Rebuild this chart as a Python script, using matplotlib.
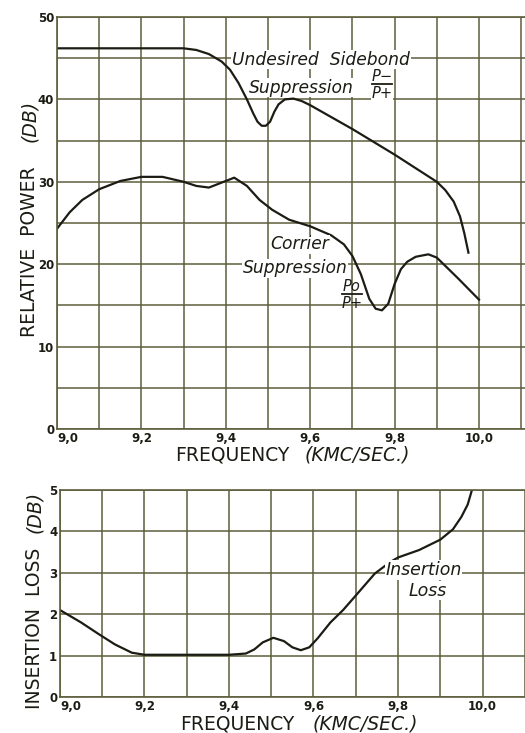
"""Relative power and insertion loss vs frequency"""
import matplotlib.pyplot as plt
from matplotlib.lines import Line2D
import numpy as np

# --- data ---
sideband_f = [9.00, 9.10, 9.20, 9.30, 9.33, 9.36, 9.39, 9.41, 9.43, 9.45, 9.465, 9.475,
              9.485, 9.495, 9.505, 9.515, 9.525, 9.54, 9.56, 9.58, 9.60, 9.70, 9.80,
              9.90, 9.92, 9.94, 9.955, 9.965, 9.975]
sideband_db = [46.2, 46.2, 46.2, 46.2, 46.0, 45.5, 44.6, 43.6, 42.0, 40.0, 38.3, 37.3,
               36.8, 36.8, 37.3, 38.5, 39.4, 40.0, 40.1, 39.8, 39.3, 36.4, 33.3,
               30.0, 29.0, 27.6, 25.8, 23.8, 21.4]

carrier_f = [9.00, 9.03, 9.06, 9.10, 9.15, 9.20, 9.25, 9.30, 9.33, 9.36, 9.39, 9.42,
             9.45, 9.48, 9.51, 9.55, 9.60, 9.65, 9.68, 9.70, 9.72, 9.74, 9.755, 9.77,
             9.785, 9.80, 9.815, 9.83, 9.85, 9.88, 9.90, 9.95, 10.00]
carrier_db = [24.3, 26.3, 27.8, 29.1, 30.1, 30.6, 30.6, 30.0, 29.5, 29.3, 29.9, 30.5,
              29.5, 27.8, 26.6, 25.4, 24.6, 23.5, 22.4, 21.0, 18.8, 15.8, 14.6, 14.4,
              15.2, 17.6, 19.4, 20.3, 20.9, 21.2, 20.8, 18.3, 15.7]

loss_f = [9.00, 9.05, 9.09, 9.13, 9.17, 9.20, 9.30, 9.40, 9.44, 9.46, 9.48, 9.505,
          9.53, 9.55, 9.57, 9.59, 9.61, 9.64, 9.67, 9.70, 9.745, 9.78, 9.80, 9.85,
          9.90, 9.93, 9.95, 9.965, 9.975]
loss_db = [2.1, 1.8, 1.53, 1.27, 1.07, 1.02, 1.02, 1.02, 1.05, 1.15, 1.32, 1.43,
           1.35, 1.2, 1.13, 1.2, 1.42, 1.8, 2.1, 2.45, 2.98, 3.25, 3.37, 3.55,
           3.8, 4.05, 4.35, 4.65, 5.0]

freq_ticks = [9.0, 9.2, 9.4, 9.6, 9.8, 10.0]
freq_labels = ['9,0', '9,2', '9,4', '9,6', '9,8', '10,0']
power_ticks = [0, 10, 20, 30, 40, 50]
loss_ticks = [0, 1, 2, 3, 4, 5]

INK = '#1c1c14'
GRID = '#5c5e3c'

W, H = 525, 733
fig = plt.figure(figsize=(W / 100, H / 100), dpi=100)
fig.patch.set_facecolor('white')


def px(x, y):
    # pixel position (from top-left) -> figure fraction
    return x / W, 1 - y / H


def style_axes(ax, ymax, ystep, yticks):
    ax.set_xlim(9.0, 10.115)
    ax.set_ylim(0, ymax)
    ax.set_xticks(np.arange(9.1, 10.15, 0.2), minor=True)
    ax.set_yticks([v for v in np.arange(0, ymax + 0.01, ystep) if v not in yticks],
                  minor=True)
    ax.set_xticks(freq_ticks)
    ax.set_xticklabels(freq_labels)
    ax.set_yticks(yticks)
    ax.set_yticklabels([str(t) for t in yticks])
    ax.grid(True, which='both', color=GRID, linewidth=1.1)
    ax.tick_params(which='both', length=0, labelsize=8.5, labelcolor=INK, pad=2)
    for lab in ax.get_xticklabels() + ax.get_yticklabels():
        lab.set_fontweight('bold')
    ax.get_xticklabels()[0].set_horizontalalignment('left')
    for s in ['top', 'left', 'bottom']:
        ax.spines[s].set_color(GRID)
        ax.spines[s].set_linewidth(1.2)
    ax.spines['right'].set_visible(False)
    ax.set_axisbelow(True)


def fraction(num, den, cx, ytop, size=10.5, bg=None):
    # hand-lettered ratio: numerator, bar, denominator (pixel coords)
    fig.text(*px(cx, ytop), num, fontsize=size, style='italic', color=INK,
             ha='center', va='top', bbox=bg)
    fig.text(*px(cx, ytop + 17.5), den, fontsize=size, style='italic', color=INK,
             ha='center', va='top', bbox=bg)
    x0, y0 = px(cx - 10, ytop + 15)
    x1, _ = px(cx + 10, ytop + 15)
    fig.add_artist(Line2D([x0, x1], [y0, y0], color=INK, linewidth=1.3,
                          transform=fig.transFigure, zorder=10))


box = dict(facecolor='white', edgecolor='none', pad=0.5)
LBL = 13.5

# top chart
ax1 = fig.add_axes([57 / W, 1 - 429 / H, (1.115 * 422) / W, 412 / H])
style_axes(ax1, 50, 5, power_ticks)
ax1.plot(sideband_f, sideband_db, color=INK, linewidth=1.6)
ax1.plot(carrier_f, carrier_db, color=INK, linewidth=1.6)

ax1.text(9.415, 44.2, 'Undesired  Sidebond', fontsize=12.3, style='italic',
         color=INK, bbox=box)
ax1.text(9.455, 40.8, 'Suppression', fontsize=12.3, style='italic',
         color=INK, bbox=box)
fraction('P\u2212', 'P+', 382, 69, bg=box)
ax1.text(9.505, 21.8, 'Corrier', fontsize=12.3, style='italic', color=INK, bbox=box)
ax1.text(9.44, 18.9, 'Suppression', fontsize=12.3, style='italic', color=INK, bbox=box)
fraction('Po', 'P+', 352, 279)

fig.text(*px(175, 455), 'FREQUENCY', fontsize=LBL, color=INK, va='center')
fig.text(*px(305, 455), '(KMC/SEC.)', fontsize=LBL, style='italic',
         color=INK, va='center')
fig.text(*px(30, 252), 'RELATIVE  POWER', fontsize=LBL, color=INK,
         rotation=90, ha='center', va='center')
fig.text(*px(30, 121), '(DB)', fontsize=LBL, style='italic', color=INK,
         rotation=90, ha='center', va='center')

# bottom chart
ax2 = fig.add_axes([60 / W, 1 - 697 / H, (1.115 * 422.5) / W, 207 / H])
style_axes(ax2, 5, 1, loss_ticks)
ax2.plot(loss_f, loss_db, color=INK, linewidth=1.6)
ax2.text(9.77, 2.95, 'Insertion', fontsize=12.5, style='italic', color=INK, bbox=box)
ax2.text(9.825, 2.45, 'Loss', fontsize=12.5, style='italic', color=INK, bbox=box)

fig.text(*px(180, 724), 'FREQUENCY', fontsize=LBL, color=INK, va='center')
fig.text(*px(313, 724), '(KMC/SEC.)', fontsize=LBL, style='italic',
         color=INK, va='center')
fig.text(*px(35, 628), 'INSERTION  LOSS', fontsize=LBL, color=INK,
         rotation=90, ha='center', va='center')
fig.text(*px(35, 512), '(DB)', fontsize=LBL, style='italic', color=INK,
         rotation=90, ha='center', va='center')

plt.savefig('out.png', dpi=100)
plt.close()
